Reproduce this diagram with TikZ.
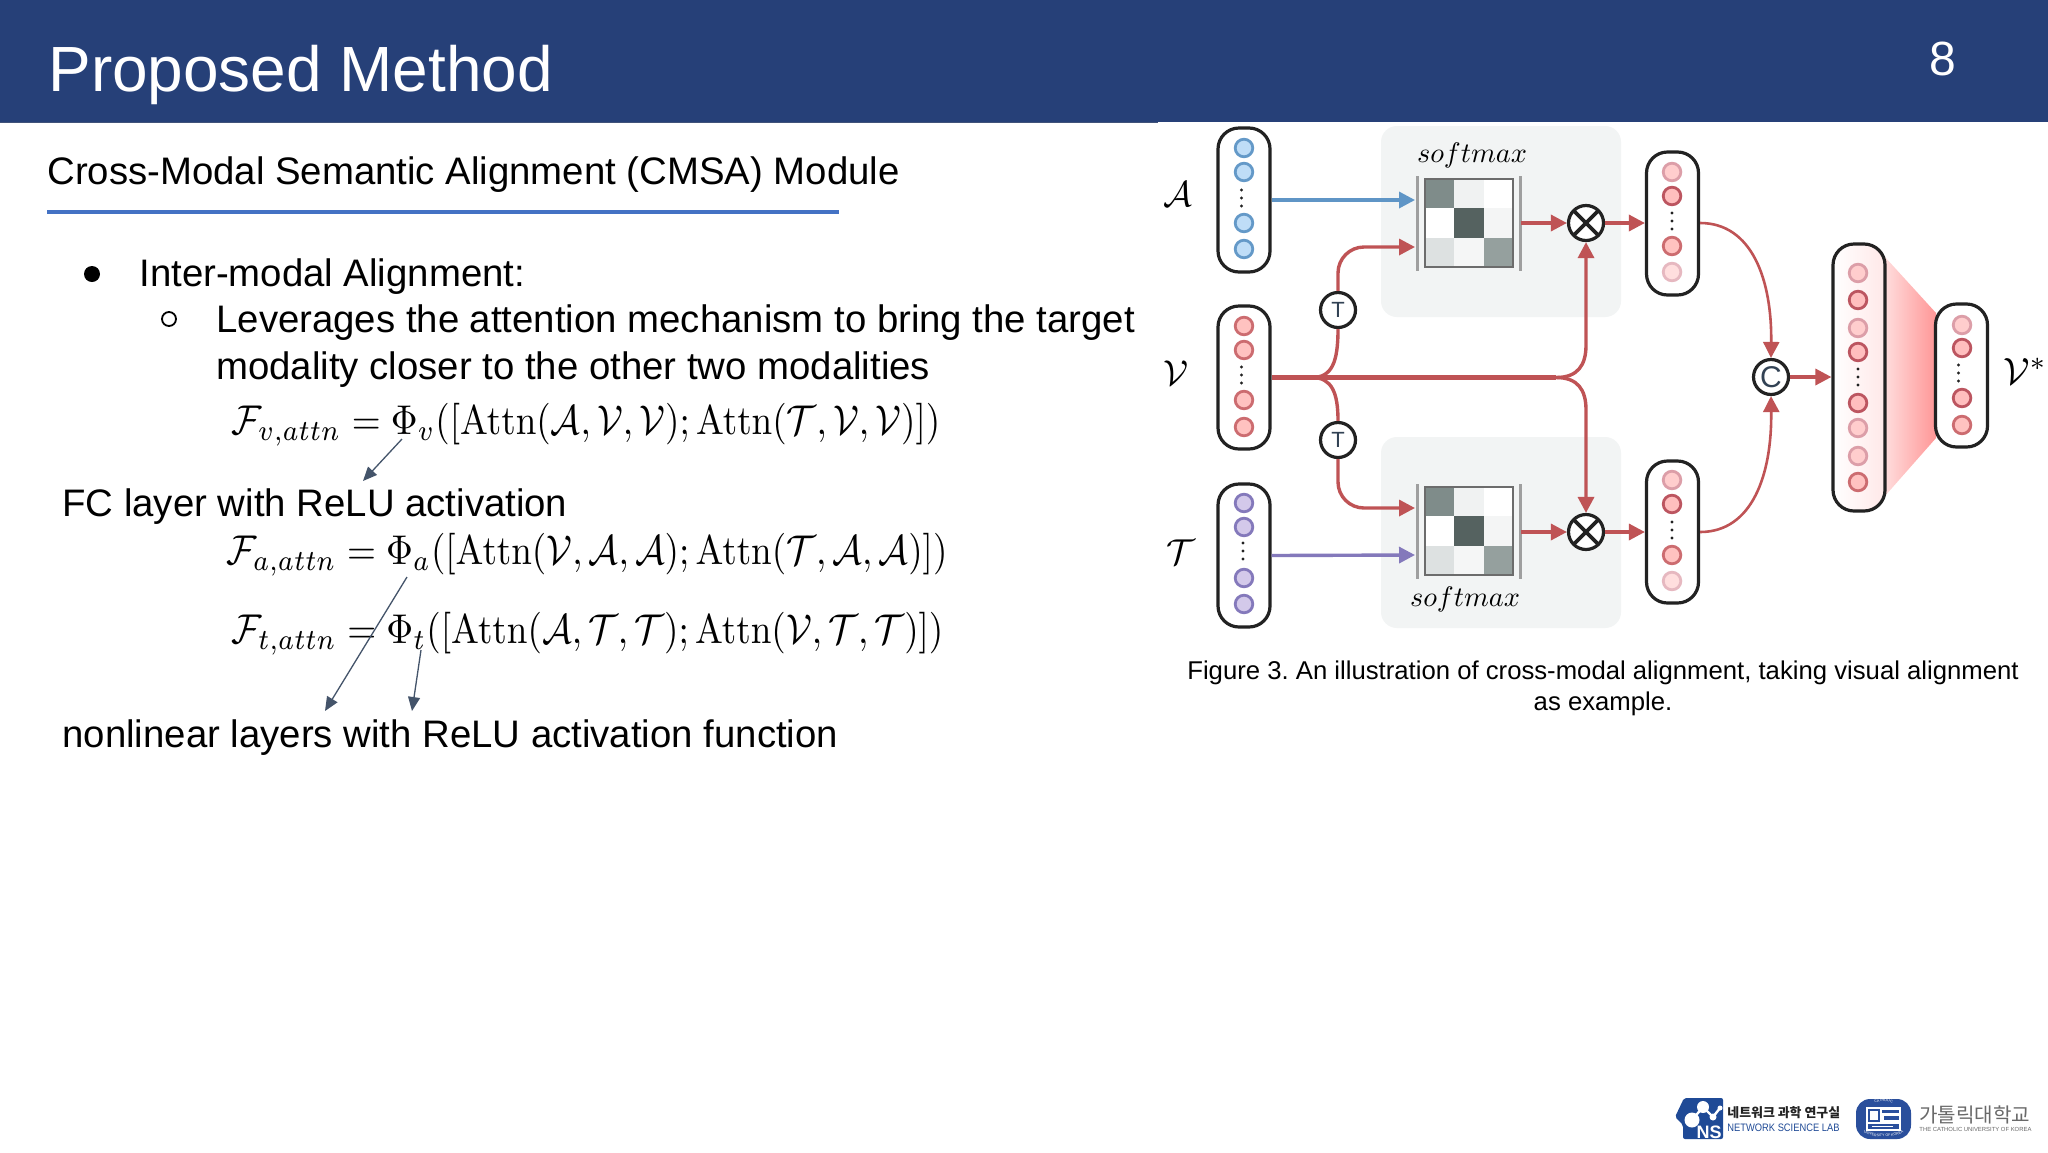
\documentclass[tikz,border=0pt]{standalone}
\usepackage[no-math]{fontspec}
\usepackage{graphicx}
\usetikzlibrary{arrows.meta,decorations.text}
\newfontfamily\lib{Liberation Sans}
\newfontfamily\kor{Noto Sans CJK KR}
\newcommand{\fs}[1]{\fontsize{#1}{#1}\selectfont}
\definecolor{hdr}{HTML}{264078}
\definecolor{rule}{HTML}{4472C4}
\definecolor{rline}{HTML}{BF5355}
\definecolor{bline}{HTML}{5F95C6}
\definecolor{pline}{HTML}{8479BB}
\definecolor{panel}{HTML}{F2F4F4}
\definecolor{ink}{HTML}{222222}
\definecolor{noteline}{HTML}{44546A}
\definecolor{nsblue}{HTML}{1F4A96}
\definecolor{cuk}{HTML}{2A4F9C}
\definecolor{c1}{HTML}{7F8C8A}\definecolor{c2}{HTML}{F0F2F2}\definecolor{c3}{HTML}{FFFFFF}
\definecolor{c4}{HTML}{FFFFFF}\definecolor{c5}{HTML}{556260}\definecolor{c6}{HTML}{F4F5F5}
\definecolor{c7}{HTML}{DDE1E1}\definecolor{c8}{HTML}{F5F6F6}\definecolor{c9}{HTML}{95A09E}
\definecolor{bluefill}{HTML}{BFDDF7}
\definecolor{bluedraw}{HTML}{6499C8}
\definecolor{purfill}{HTML}{D3C9EA}
\definecolor{redmd}{HTML}{CC6C70}\definecolor{redmf}{HTML}{FFC2C0}
\definecolor{redsd}{HTML}{BC5560}\definecolor{redsf}{HTML}{FFBEBE}
\definecolor{redld}{HTML}{DC9EA8}\definecolor{redlf}{HTML}{FFCDCD}
\definecolor{redxd}{HTML}{E6B8C0}\definecolor{redxf}{HTML}{FFDEDE}
\definecolor{optext}{HTML}{324254}
\definecolor{funl}{HTML}{FFDEDE}\definecolor{funr}{HTML}{FF9696}
\definecolor{bigr}{HTML}{FFE8E8}
\definecolor{logog}{HTML}{696969}
\tikzset{
 txt/.style={font=\lib\frenchspacing\fs{19.17},anchor=base west,inner sep=0pt,text=black},
 eqn/.style={anchor=base west,inner sep=0pt},
 pill/.style={draw=ink,line width=1.6pt,rounded corners=10.5pt,minimum width=26pt,fill=white,inner sep=0pt},
 dotb/.style={circle,inner sep=0pt,minimum size=8.8pt,line width=1.4pt,draw=#1},
 blu/.style={dotb=bluedraw,fill=bluefill},
 pur/.style={dotb=pline,fill=purfill},
 redm/.style={dotb=redmd,fill=redmf},
 reds/.style={dotb=redsd,fill=redsf},
 redl/.style={dotb=redld,fill=redlf},
 redx/.style={dotb=redxd,fill=redxf},
 opc/.style={circle,draw=ink,line width=1.6pt,fill=white,minimum size=17.5pt,inner sep=0pt,text=optext},
 otimesc/.style={opc,path picture={\draw[ink,line width=1.8pt] (path picture bounding box.north west)--(path picture bounding box.south east) (path picture bounding box.north east)--(path picture bounding box.south west);}},
 tip/.style={-{Triangle[length=8pt,width=8pt]}},
 rl/.style={draw=rline,line width=1.7pt,tip},
 rplain/.style={draw=rline,line width=1.7pt},
 note/.style={noteline,line width=0.65pt,-{Triangle[length=7pt,width=6pt]}},
 lab/.style={inner sep=0pt},
 sm/.style={inner sep=0pt},
 bar/.style={draw=gray!75,line width=1.5pt},
 pnl/.style={fill=panel,draw=none,rounded corners=8pt},
 ldot/.style={circle,fill=ink,inner sep=0pt,minimum size=1.6pt},
}
\newcommand{\tridots}[2]{\node[ldot] at (#1,#2-8){};\node[ldot] at (#1,#2){};\node[ldot] at (#1,#2+8){};}
\newcommand{\heatmap}[2]{%
 \foreach \r/\s/\k in {0/0/c1,1/0/c2,2/0/c3,0/1/c4,1/1/c5,2/1/c6,0/2/c7,1/2/c8,2/2/c9}{
  \fill[\k] (#1+\r*29.33,#2+\s*29.33) rectangle ++(29.33,29.33);}
 \draw[gray!85!black,line width=0.9pt] (#1,#2) rectangle ++(88,88);
 \draw[bar] (#1-8,#2-3) -- ++(0,95);
 \draw[bar] (#1+95,#2-3) -- ++(0,95);
}
\begin{document}
\begin{tikzpicture}[x=0.5pt,y=-0.5pt]
\useasboundingbox (0,0) rectangle (2048,1152);
\fill[white] (0,0) rectangle (2048,1152);
% header
\fill[hdr] (0,0) rectangle (2048,122);
\draw[hdr!70!gray,line width=0.5pt] (0,122.5) -- (1158,122.5);
\node[txt,text=white,font=\lib\fs{31.95}] (title) at (48,91) {Proposed Method};
\node[txt,text=white,font=\lib\fs{24}] (pageno) at (1929,75) {8};
% left text
\node[txt] (sub) at (47,184) {Cross-Modal Semantic Alignment (CMSA) Module};
\draw[rule,line width=2pt] (47,212) -- (839,212);
\node[circle,fill=black,minimum size=8pt,inner sep=0pt] (b1) at (92,274) {};
\node[txt] (l1) at (139,286) {Inter-modal Alignment:};
\node[circle,draw=black,line width=0.9pt,minimum size=7pt,inner sep=0pt] (b2) at (169,319) {};
\node[txt] (l2) at (216,332) {Leverages the attention mechanism to bring the target};
\node[txt] (l3) at (216,379) {modality closer to the other two modalities};
\node[eqn] (e1) at (231,434) {\scalebox{1}[1.12]{\resizebox{354.5pt}{!}{$\mathcal{F}_{v,attn}=\Phi_v([\mathrm{Attn}(\mathcal{A},\mathcal{V},\mathcal{V});\mathrm{Attn}(\mathcal{T},\mathcal{V},\mathcal{V})])$}}};
\node[txt] (fc) at (62,516) {FC layer with ReLU activation};
\node[eqn] (e2) at (226,564) {\scalebox{1}[1.12]{\resizebox{360.5pt}{!}{$\mathcal{F}_{a,attn}=\Phi_a([\mathrm{Attn}(\mathcal{V},\mathcal{A},\mathcal{A});\mathrm{Attn}(\mathcal{T},\mathcal{A},\mathcal{A})])$}}};
\node[eqn] (e3) at (231,643) {\scalebox{1}[1.12]{\resizebox{356pt}{!}{$\mathcal{F}_{t,attn}=\Phi_t([\mathrm{Attn}(\mathcal{A},\mathcal{T},\mathcal{T});\mathrm{Attn}(\mathcal{V},\mathcal{T},\mathcal{T})])$}}};
\node[txt] (nl) at (62,747) {nonlinear layers with ReLU activation function};
\coordinate (n1a) at (402,439); \coordinate (n1b) at (363,481);
\coordinate (n2a) at (407,577); \coordinate (n2b) at (325,711);
\coordinate (n3a) at (421,650); \coordinate (n3b) at (412,711);
\draw[note] (n1a) -- (n1b);
\draw[note] (n2a) -- (n2b);
\draw[note] (n3a) -- (n3b);
% panels
\fill[pnl] (1381,126) rectangle (1621,317);
\fill[pnl] (1381,437) rectangle (1621,628);
% labels
\node[sm] (s1) at (1472,155) {\resizebox{55pt}{!}{$softmax$}};
\node[sm] (s2) at (1465,599) {\resizebox{55pt}{!}{$softmax$}};
\heatmap{1425}{179}
\heatmap{1425}{487}
\node[lab] (la) at (1178,194) {\scalebox{1.8}{$\mathcal{A}$}};
\node[lab] (lv) at (1176,373) {\scalebox{1.8}{$\mathcal{V}$}};
\node[lab] (lt) at (1181,552) {\scalebox{1.8}{$\mathcal{T}$}};
\node[lab] (lvs) at (2025,371) {\scalebox{1.9}{$\mathcal{V}^{*}$}};
% funnel
\shade[left color=funl,right color=funr]
  (1884,256) -- (1936,313) -- (1936,438) -- (1884,497) -- cycle;
% pills
\node[pill,minimum height=72pt] (pa) at (1244,200) {};
\node[pill,minimum height=71.5pt] (pv) at (1244,377.5) {};
\node[pill,minimum height=71.5pt] (pt) at (1244,555.5) {};
\node[pill,minimum height=71.5pt] (r1) at (1672.5,223.5) {};
\node[pill,minimum height=71pt] (r2) at (1672.5,532) {};
\node[pill,minimum height=133.5pt,left color=white,right color=bigr] (big) at (1859,377.5) {};
\node[pill,minimum height=71.5pt] (out) at (1961.5,375.5) {};
% dots in pills
\foreach \y in {148,172,223,249}{\node[blu] at (1244,\y){};}
\tridots{1241.5}{198}
\foreach \y in {326,350,400,427}{\node[redm] at (1244,\y){};}
\tridots{1241.5}{375}
\foreach \y in {503,527,578,604}{\node[pur] at (1244,\y){};}
\tridots{1243}{551}
\node[redl] at (1672,172){}; \node[reds] at (1672,196){}; \node[redm] at (1672,246){}; \node[redx] at (1672,272){};
\tridots{1672}{221}
\node[redl] at (1672,480){}; \node[reds] at (1672,504){}; \node[redm] at (1672,555){}; \node[redx] at (1672,581){};
\tridots{1672}{530}
\node[redl] at (1858,273){}; \node[reds] at (1858,300){}; \node[redl] at (1858,328){}; \node[reds] at (1858,352){};
\tridots{1858}{377}
\node[reds] at (1858,403){}; \node[redl] at (1858,428){}; \node[redl] at (1858,456){}; \node[redm] at (1858,482){};
\node[redl] at (1962,325){}; \node[reds] at (1962,348){}; \node[reds] at (1962,398){}; \node[redm] at (1962,425){};
\tridots{1958.5}{373}
% operator nodes
\node[opc,font=\lib\fs{11}] (t1) at (1338,310) {T};
\node[opc,font=\lib\fs{11}] (t2) at (1338,440) {T};
\node[otimesc] (o1) at (1586,223) {};
\node[otimesc] (o2) at (1586,532) {};
\node[opc,font=\lib\fs{15}] (cc) at (1771,377) {C};
% connector end points
\coordinate (ma) at (1415,200);
\coordinate (m1t) at (1415,247);
\coordinate (m1o) at (1521,223);
\coordinate (m2t) at (1415,508);
\coordinate (mb) at (1415,555);
\coordinate (m2o) at (1521,532);
\coordinate (bu) at (1312,377.5);
\coordinate (bv) at (1556,377.5);
% connectors
\draw[draw=bline,line width=1.7pt,tip] (pa.east) -- (ma);
\draw[draw=pline,line width=1.7pt,tip] (pt.east) -- (mb);
\draw[draw=rline,line width=2.5pt] (pv.east) -- (bv);
\draw[rplain] (bu) .. controls (1332,377.5) and (1338,362) .. (t1.south);
\draw[rplain] (bu) .. controls (1332,377.5) and (1338,393) .. (t2.north);
\draw[rl,rounded corners=13pt] (t1.north) |- (m1t);
\draw[rl,rounded corners=13pt] (t2.south) |- (m2t);
\draw[rl] (bv) .. controls (1578,377.5) and (1586,365) .. (1586,345) -- (o1.south);
\draw[rl] (bv) .. controls (1578,377.5) and (1586,390) .. (1586,410) -- (o2.north);
\draw[rl] (m1o) -- (o1.west);
\draw[rl] (m2o) -- (o2.west);
\draw[rl] (o1.east) -- (r1.west |- o1.east);
\draw[rl] (o2.east) -- (r2.west |- o2.east);
\draw[rl,line width=1.3pt] (r1.east |- o1.east) .. controls (1752,223) and (1772,280) .. (cc.north);
\draw[rl,line width=1.3pt] (r2.east |- o2.east) .. controls (1752,532) and (1772,475) .. (cc.south);
\draw[rl] (cc.east) -- (big.west |- cc.east);
% caption
\node[txt,font=\lib\frenchspacing\fs{12.85},anchor=base] (cap1) at (1603,679) {Figure 3. An illustration of cross-modal alignment, taking visual alignment};
\node[txt,font=\lib\frenchspacing\fs{12.85},anchor=base] (cap2) at (1603,710) {as example.};
% NS logo
\fill[nsblue,rounded corners=1pt] (1675,1117) -- (1684,1098) -- (1723,1098) -- (1723,1139) -- (1683,1139) -- (1683,1125) -- cycle;
\draw[white,line width=1.2pt] (1692,1120) -- (1703,1107) -- (1713,1117) -- (1720,1108);
\fill[white] (1692,1120) circle[radius=7.5];
\fill[white] (1703,1107) circle[radius=6];
\fill[white] (1713,1117) circle[radius=3.5];
\fill[white] (1720,1108) circle[radius=2.5];
\node[font=\lib\bfseries\fs{9},text=white,inner sep=0pt] (ns) at (1709,1132) {NS};
\node[font=\kor\bfseries\fs{6.45},anchor=west,inner sep=0pt,text=ink] (kr1) at (1727,1113) {네트워크 과학 연구실};
\node[font=\lib\fs{5.4},anchor=west,inner sep=0pt,text=nsblue] (en1) at (1727,1128) {\scalebox{0.865}[1]{NETWORK SCIENCE LAB}};
% CUK emblem
\fill[cuk,rounded corners=7pt] (1856,1099) rectangle (1911,1139);
\fill[white] (1866,1107) rectangle (1901,1131);
\fill[cuk] (1868,1109) rectangle (1880,1122);
\fill[white] (1870,1111) rectangle (1878,1120);
\fill[cuk] (1882,1110) rectangle (1899,1113);
\fill[cuk] (1884,1116) rectangle (1899,1120);
\fill[cuk] (1868,1124) rectangle (1899,1129);
\fill[white] (1872,1126) rectangle (1893,1127);
\path[decorate,decoration={text along path,text align=center,text={|\lib\fs{1.8}\color{white}|CATHOLIC}}] (1866,1106) .. controls (1876,1100) and (1891,1100) .. (1901,1106);
\path[decorate,decoration={text along path,text align=center,text={|\lib\fs{1.8}\color{white}|UNIVERSITY OF KOREA}}] (1862,1132) .. controls (1874,1138.5) and (1893,1138.5) .. (1905,1132);
\node[font=\kor\fs{10.05},anchor=west,inner sep=0pt,text=logog] (kr2) at (1919,1115) {가톨릭대학교};
\node[font=\lib\fs{2.95},anchor=west,inner sep=0pt,text=logog] (en2) at (1919,1129) {THE CATHOLIC UNIVERSITY OF KOREA};
\end{tikzpicture}
\end{document}
